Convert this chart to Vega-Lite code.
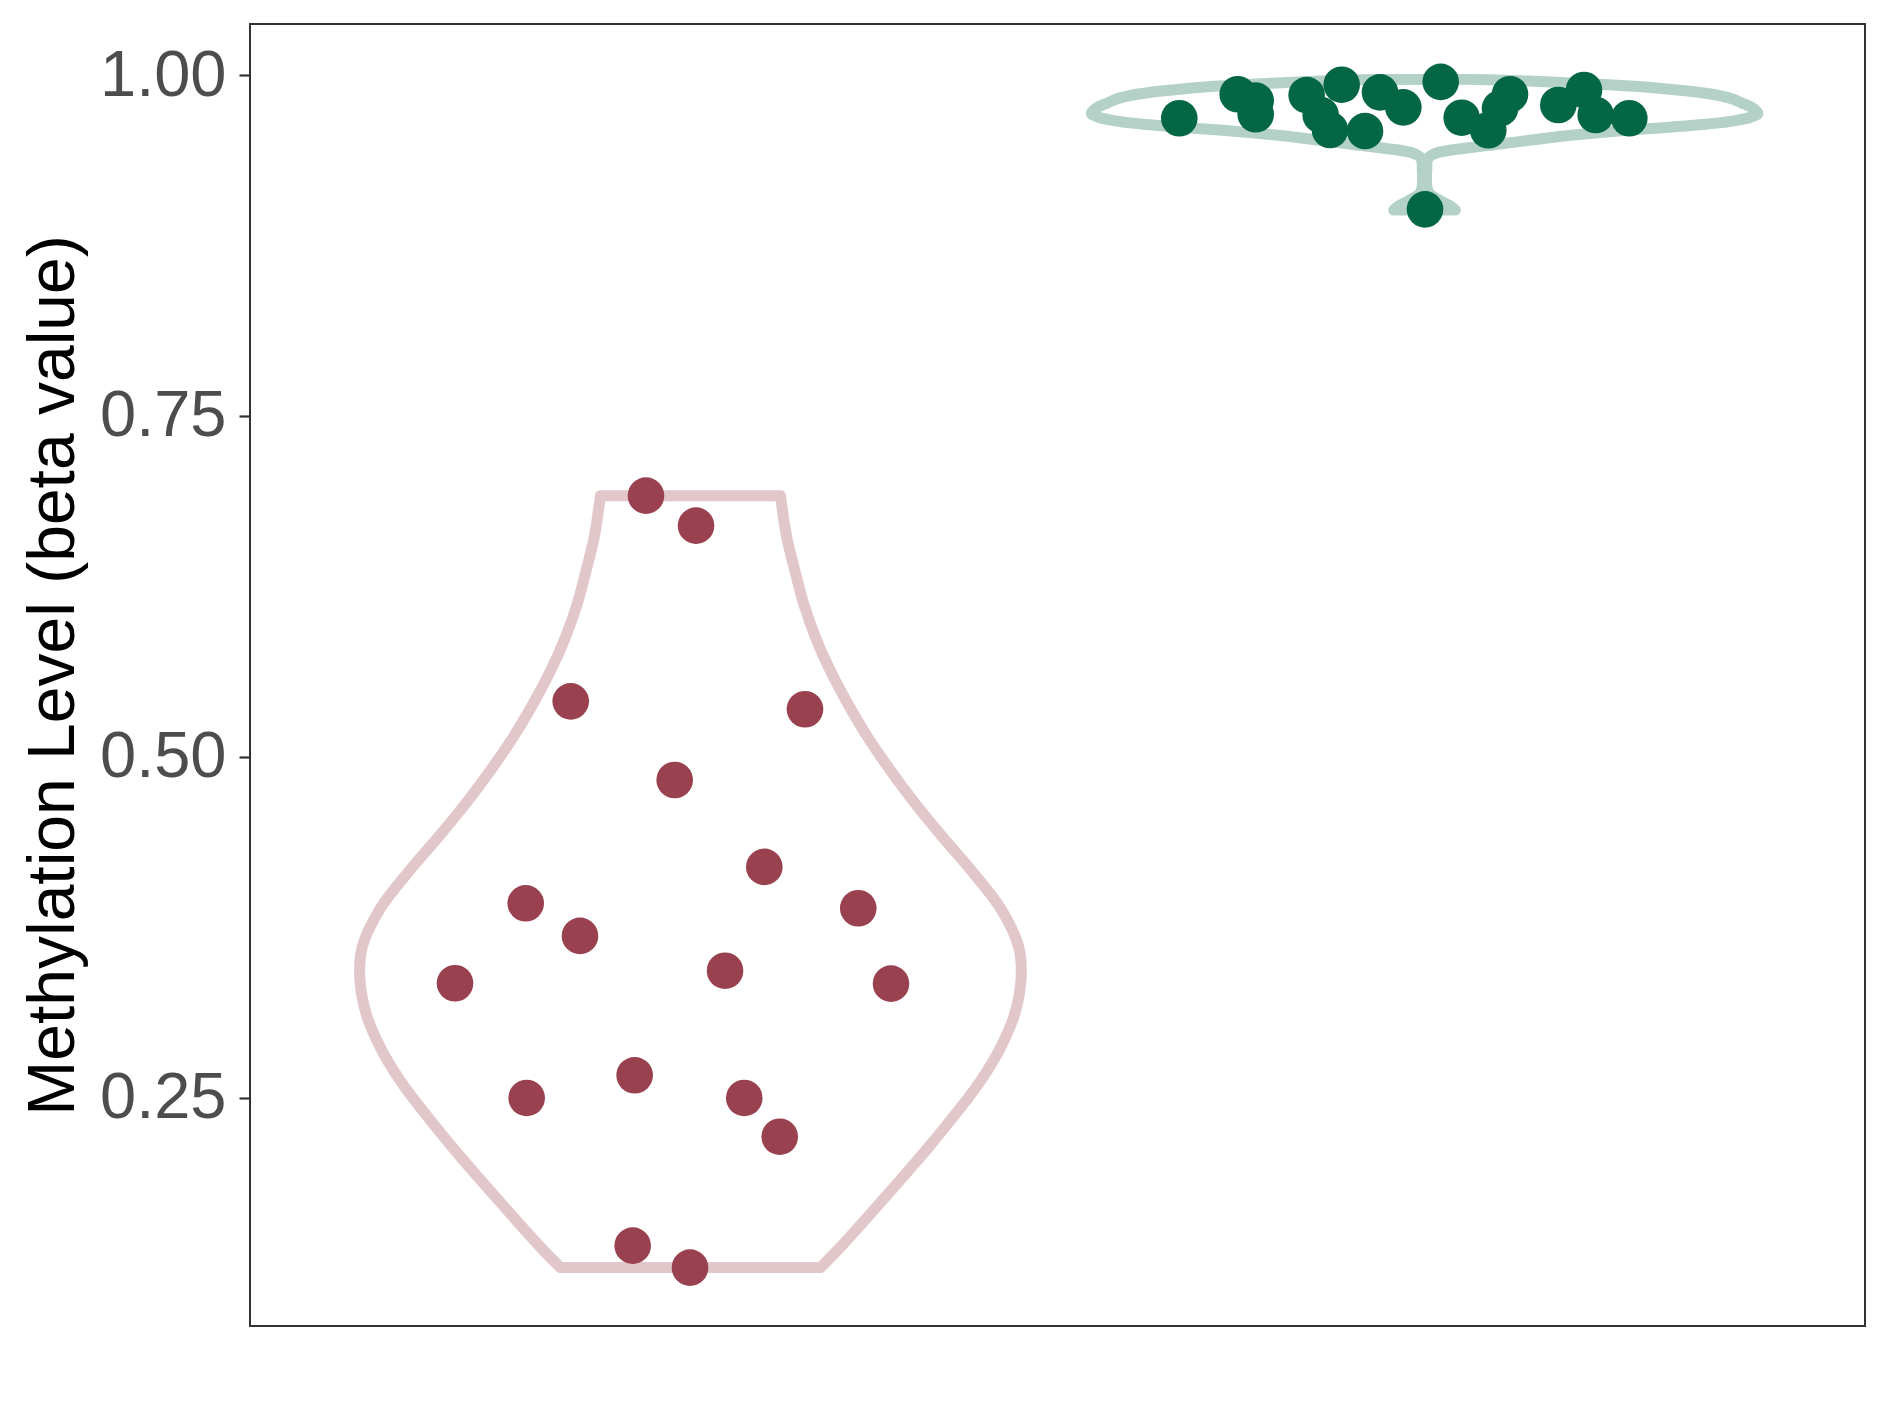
{
  "$schema": "https://vega.github.io/schema/vega-lite/v6.json",
  "width": 1615,
  "height": 1302,
  "autosize": {"type": "none"},
  "padding": {"left": 250, "top": 24, "right": 24, "bottom": 91},
  "background": "white",
  "config": {
    "view": {"stroke": "#333333", "strokeWidth": 2},
    "font": "Liberation Sans"
  },
  "datasets": {
    "violin": [
      {"grp": "a", "y": 0.1256, "lo": 0.8229, "hi": 1.1771},
      {"grp": "a", "y": 0.1410, "lo": 0.7950, "hi": 1.2050},
      {"grp": "a", "y": 0.1655, "lo": 0.7540, "hi": 1.2460},
      {"grp": "a", "y": 0.1899, "lo": 0.7140, "hi": 1.2860},
      {"grp": "a", "y": 0.2143, "lo": 0.6750, "hi": 1.3250},
      {"grp": "a", "y": 0.2388, "lo": 0.6380, "hi": 1.3620},
      {"grp": "a", "y": 0.2632, "lo": 0.6040, "hi": 1.3960},
      {"grp": "a", "y": 0.2876, "lo": 0.5770, "hi": 1.4230},
      {"grp": "a", "y": 0.3121, "lo": 0.5580, "hi": 1.4420},
      {"grp": "a", "y": 0.3389, "lo": 0.5495, "hi": 1.4505},
      {"grp": "a", "y": 0.3609, "lo": 0.5530, "hi": 1.4470},
      {"grp": "a", "y": 0.3893, "lo": 0.5780, "hi": 1.4220},
      {"grp": "a", "y": 0.4171, "lo": 0.6180, "hi": 1.3820},
      {"grp": "a", "y": 0.4416, "lo": 0.6570, "hi": 1.3430},
      {"grp": "a", "y": 0.4660, "lo": 0.6940, "hi": 1.3060},
      {"grp": "a", "y": 0.4905, "lo": 0.7280, "hi": 1.2720},
      {"grp": "a", "y": 0.5149, "lo": 0.7590, "hi": 1.2410},
      {"grp": "a", "y": 0.5394, "lo": 0.7860, "hi": 1.2140},
      {"grp": "a", "y": 0.5638, "lo": 0.8100, "hi": 1.1900},
      {"grp": "a", "y": 0.5882, "lo": 0.8300, "hi": 1.1700},
      {"grp": "a", "y": 0.6127, "lo": 0.8460, "hi": 1.1540},
      {"grp": "a", "y": 0.6371, "lo": 0.8580, "hi": 1.1420},
      {"grp": "a", "y": 0.6615, "lo": 0.8690, "hi": 1.1310},
      {"grp": "a", "y": 0.6916, "lo": 0.8774, "hi": 1.1226},
      {"grp": "b", "y": 0.9010, "lo": 1.958, "hi": 2.042},
      {"grp": "b", "y": 0.9040, "lo": 1.965, "hi": 2.035},
      {"grp": "b", "y": 0.9084, "lo": 1.980, "hi": 2.020},
      {"grp": "b", "y": 0.9135, "lo": 1.994, "hi": 2.006},
      {"grp": "b", "y": 0.9194, "lo": 1.997, "hi": 2.003},
      {"grp": "b", "y": 0.9304, "lo": 1.997, "hi": 2.003},
      {"grp": "b", "y": 0.9391, "lo": 1.995, "hi": 2.005},
      {"grp": "b", "y": 0.9426, "lo": 1.985, "hi": 2.015},
      {"grp": "b", "y": 0.9463, "lo": 1.945, "hi": 2.055},
      {"grp": "b", "y": 0.9492, "lo": 1.900, "hi": 2.100},
      {"grp": "b", "y": 0.9523, "lo": 1.855, "hi": 2.145},
      {"grp": "b", "y": 0.9553, "lo": 1.810, "hi": 2.190},
      {"grp": "b", "y": 0.9577, "lo": 1.765, "hi": 2.235},
      {"grp": "b", "y": 0.9597, "lo": 1.720, "hi": 2.280},
      {"grp": "b", "y": 0.9614, "lo": 1.675, "hi": 2.325},
      {"grp": "b", "y": 0.9633, "lo": 1.630, "hi": 2.370},
      {"grp": "b", "y": 0.9658, "lo": 1.585, "hi": 2.415},
      {"grp": "b", "y": 0.9692, "lo": 1.555, "hi": 2.445},
      {"grp": "b", "y": 0.9719, "lo": 1.546, "hi": 2.454},
      {"grp": "b", "y": 0.9758, "lo": 1.553, "hi": 2.447},
      {"grp": "b", "y": 0.9795, "lo": 1.568, "hi": 2.432},
      {"grp": "b", "y": 0.9824, "lo": 1.580, "hi": 2.420},
      {"grp": "b", "y": 0.9846, "lo": 1.595, "hi": 2.405},
      {"grp": "b", "y": 0.9872, "lo": 1.625, "hi": 2.375},
      {"grp": "b", "y": 0.9897, "lo": 1.670, "hi": 2.330},
      {"grp": "b", "y": 0.9919, "lo": 1.720, "hi": 2.280},
      {"grp": "b", "y": 0.9934, "lo": 1.770, "hi": 2.230},
      {"grp": "b", "y": 0.9949, "lo": 1.830, "hi": 2.170},
      {"grp": "b", "y": 0.9963, "lo": 1.900, "hi": 2.100},
      {"grp": "b", "y": 0.9968, "lo": 1.940, "hi": 2.060}
    ],
    "points": [
      {"grp": "a", "x": 0.9394, "y": 0.6916},
      {"grp": "a", "x": 1.0076, "y": 0.6696},
      {"grp": "a", "x": 0.8369, "y": 0.5408},
      {"grp": "a", "x": 0.9785, "y": 0.4831},
      {"grp": "a", "x": 0.7756, "y": 0.3927},
      {"grp": "a", "x": 1.1560, "y": 0.5350},
      {"grp": "a", "x": 1.1006, "y": 0.4194},
      {"grp": "a", "x": 1.2286, "y": 0.3891},
      {"grp": "a", "x": 0.8495, "y": 0.3688},
      {"grp": "a", "x": 0.6793, "y": 0.3341},
      {"grp": "a", "x": 0.7769, "y": 0.2500},
      {"grp": "a", "x": 0.9240, "y": 0.2666},
      {"grp": "a", "x": 0.9213, "y": 0.1417},
      {"grp": "a", "x": 0.9994, "y": 0.1256},
      {"grp": "a", "x": 1.0471, "y": 0.3433},
      {"grp": "a", "x": 1.2732, "y": 0.3338},
      {"grp": "a", "x": 1.0733, "y": 0.2500},
      {"grp": "a", "x": 1.1216, "y": 0.2216},
      {"grp": "b", "x": 1.6659, "y": 0.9683},
      {"grp": "b", "x": 1.7455, "y": 0.9859},
      {"grp": "b", "x": 1.7700, "y": 0.9812},
      {"grp": "b", "x": 1.7700, "y": 0.9712},
      {"grp": "b", "x": 1.8394, "y": 0.9853},
      {"grp": "b", "x": 1.8871, "y": 0.9929},
      {"grp": "b", "x": 1.8585, "y": 0.9707},
      {"grp": "b", "x": 1.8712, "y": 0.9597},
      {"grp": "b", "x": 1.9189, "y": 0.9589},
      {"grp": "b", "x": 1.9393, "y": 0.9873},
      {"grp": "b", "x": 1.9711, "y": 0.9763},
      {"grp": "b", "x": 2.0220, "y": 0.9950},
      {"grp": "b", "x": 2.0506, "y": 0.9687},
      {"grp": "b", "x": 2.0868, "y": 0.9595},
      {"grp": "b", "x": 2.1028, "y": 0.9755},
      {"grp": "b", "x": 2.1164, "y": 0.9859},
      {"grp": "b", "x": 2.1822, "y": 0.9780},
      {"grp": "b", "x": 2.2172, "y": 0.9890},
      {"grp": "b", "x": 2.2331, "y": 0.9707},
      {"grp": "b", "x": 2.2789, "y": 0.9683},
      {"grp": "b", "x": 2.0006, "y": 0.9015}
    ]
  },
  "layer": [
    {
      "data": {"name": "violin"},
      "mark": {"type": "area", "orient": "horizontal", "interpolate": "catmull-rom", "fill": "transparent", "fillOpacity": 0, "strokeWidth": 11, "strokeJoin": "round", "strokeCap": "round"},
      "encoding": {
        "y": {"field": "y", "type": "quantitative", "scale": {"domain": [0.0828, 1.0374], "nice": false, "zero": false},
          "axis": {"values": [0.25, 0.5, 0.75, 1.0], "format": ".2f", "grid": false, "domain": false,
            "tickColor": "#333333", "tickSize": 11, "tickWidth": 2.2,
            "labelFont": "Liberation Sans", "labelFontSize": 65, "labelColor": "#4D4D4D", "labelPadding": 13,
            "title": "Methylation Level (beta value)", "titleFont": "Liberation Sans", "titleFontSize": 66,
            "titleFontWeight": "normal", "titleColor": "#000000", "titleX": -177, "titleY": 651,
            "titleAngle": 270, "titleAlign": "center", "titleBaseline": "alphabetic"}},
        "x": {"field": "lo", "type": "quantitative", "scale": {"domain": [0.4, 2.6], "nice": false, "zero": false}, "axis": null},
        "x2": {"field": "hi"},
        "stroke": {"field": "grp", "type": "nominal", "scale": {"domain": ["a", "b"], "range": ["#E1C6CA", "#B3D1C7"]}, "legend": null}
      }
    },
    {
      "data": {"name": "points"},
      "mark": {"type": "circle", "size": 1340, "opacity": 1},
      "encoding": {
        "x": {"field": "x", "type": "quantitative"},
        "y": {"field": "y", "type": "quantitative"},
        "color": {"field": "grp", "type": "nominal", "scale": {"domain": ["a", "b"], "range": ["#9A4150", "#036645"]}, "legend": null}
      }
    }
  ]
}
